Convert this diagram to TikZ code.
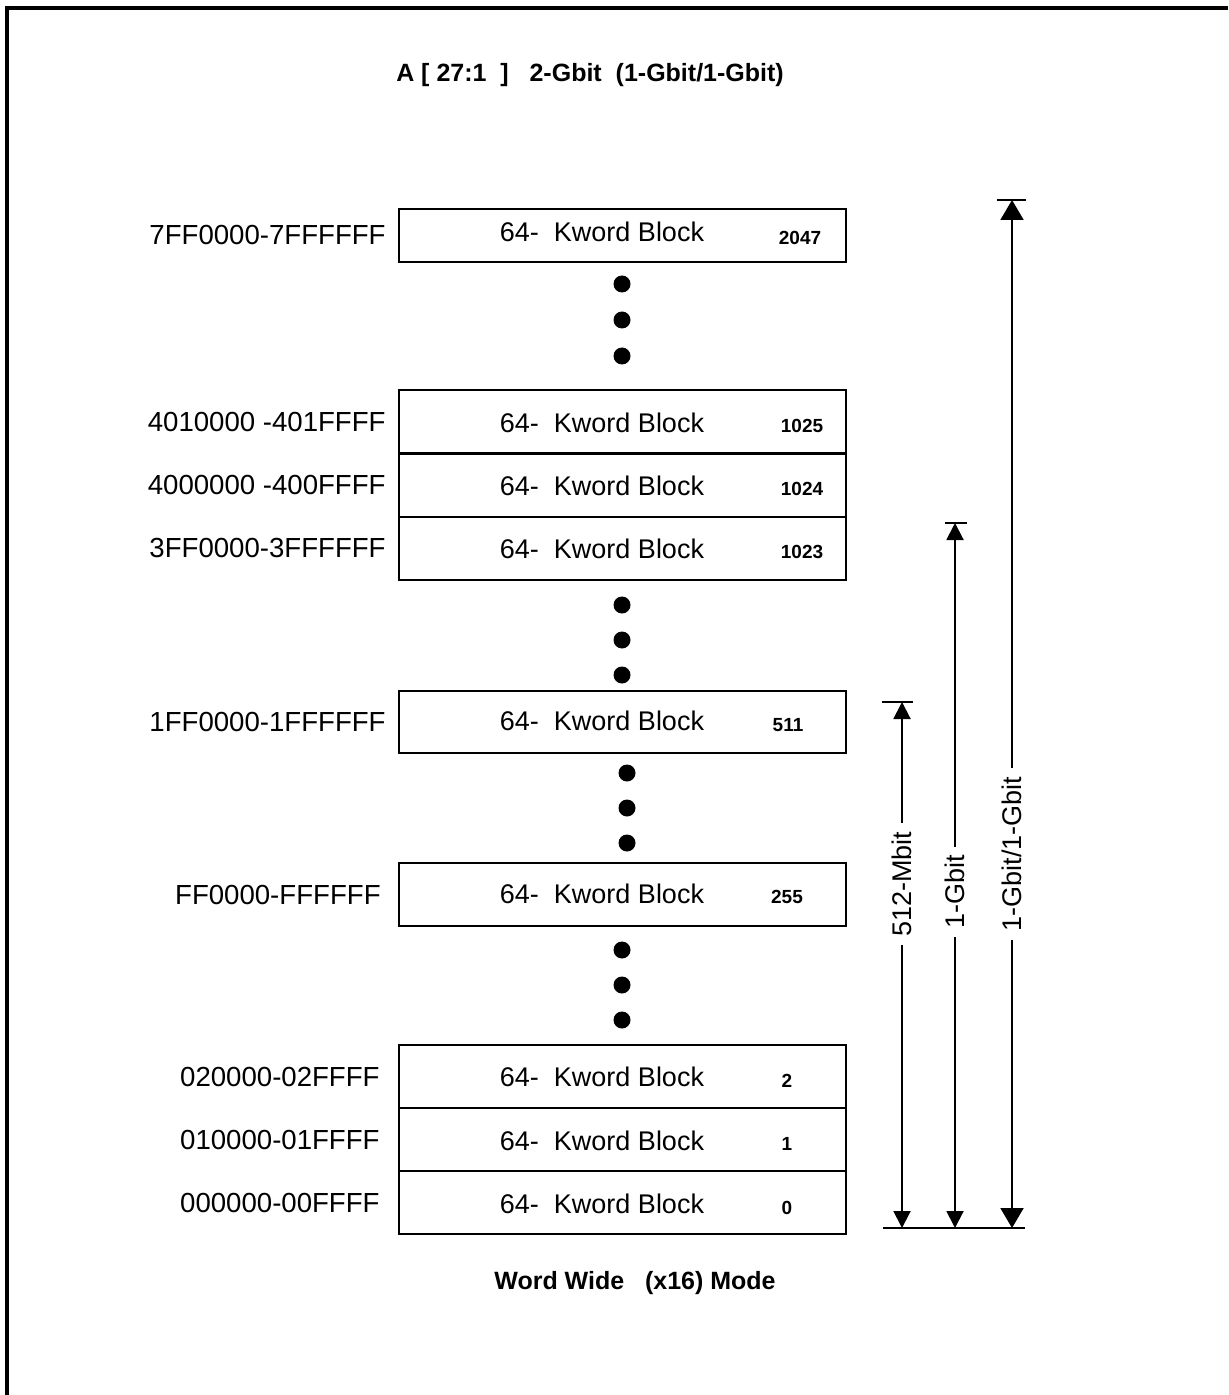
\documentclass[tikz,border=0pt]{standalone}
\usepackage{fontspec}
\setmainfont{Liberation Sans}
\usetikzlibrary{positioning,arrows.meta}

\begin{document}
\begin{tikzpicture}[
  x=0.5pt,y=-0.5pt,
  blk/.style={draw,line width=1pt,minimum width=223.5pt,minimum height=31.5pt,inner sep=0pt},
  kw/.style={font=\fontsize{13.5}{16}\selectfont,inner sep=0pt},
  addr/.style={font=\fontsize{13.8}{16}\selectfont,inner sep=0pt},
  num/.style={font=\bfseries\fontsize{9.5}{11}\selectfont,inner sep=0pt},
  ttl/.style={font=\bfseries\fontsize{12.5}{15}\selectfont,inner sep=0pt},
  dot/.style={circle,fill,inner sep=0pt,minimum size=8.5pt},
  size/.style={font=\fontsize{13.5}{16}\selectfont,rotate=90,inner sep=4pt},
  dim/.style={line width=1pt,-{Triangle[width=8.5pt,length=8.5pt]}},
  bigdim/.style={line width=1pt,-{Triangle[width=11.5pt,length=10pt]}},
  bar/.style={line width=1pt},
  node distance=6pt
]
  \useasboundingbox (0,0) rectangle (1228,1395);
  \draw[line width=2pt] (7,1395) -- (7,8) -- (1228,8);

  \node[ttl] (title) at (590,75) {A [ 27:1\ \ ]\ \ \ 2-Gbit\ \ (1-Gbit/1-Gbit)};

  \node[blk,minimum height=26.5pt] (b2047) at (622.5,235.5) {};
  \node[kw] (k2047) at (602,232) {64-\ \ Kword Block};
  \node[num] (n2047) at (800,238) {2047};
  \node[addr,left=of b2047] (a2047) {7FF0000-7FFFFFF};

  \node[dot] (d1a) at (622,284) {};
  \node[dot] (d1b) at (622,320) {};
  \node[dot] (d1c) at (622,356) {};

  \node[blk] (b1025) at (622.5,421.5) {};
  \node[kw] (k1025) at (602,422.5) {64-\ \ Kword Block};
  \node[num] (n1025) at (802,425.5) {1025};
  \node[addr,left=of b1025] (a1025) {4010000 -401FFFF};

  \node[blk] (b1024) at (622.5,485) {};
  \node[kw] (k1024) at (602,486) {64-\ \ Kword Block};
  \node[num] (n1024) at (802,489) {1024};
  \node[addr,left=of b1024] (a1024) {4000000 -400FFFF};

  \node[blk] (b1023) at (622.5,548) {};
  \node[kw] (k1023) at (602,549) {64-\ \ Kword Block};
  \node[num] (n1023) at (802,552) {1023};
  \node[addr,left=of b1023] (a1023) {3FF0000-3FFFFFF};

  \node[dot] (d2a) at (622,605) {};
  \node[dot] (d2b) at (622,640) {};
  \node[dot] (d2c) at (622,675) {};

  \node[blk,minimum height=31pt] (b511) at (622.5,722) {};
  \node[kw] (k511) at (602,721) {64-\ \ Kword Block};
  \node[num] (n511) at (788,725) {511};
  \node[addr,left=of b511] (a511) {1FF0000-1FFFFFF};

  \node[dot] (d3a) at (627,773) {};
  \node[dot] (d3b) at (627,808) {};
  \node[dot] (d3c) at (627,843) {};

  \node[blk] (b255) at (622.5,894.5) {};
  \node[kw] (k255) at (602,894) {64-\ \ Kword Block};
  \node[num] (n255) at (787,897) {255};
  \node[addr,left=8.5pt of b255] (a255) {FF0000-FFFFFF};

  \node[dot] (d4a) at (622,950) {};
  \node[dot] (d4b) at (622,985) {};
  \node[dot] (d4c) at (622,1020) {};

  \node[blk] (b2) at (622.5,1076.5) {};
  \node[kw] (k2) at (602,1077) {64-\ \ Kword Block};
  \node[num] (n2) at (787,1081) {2};
  \node[addr,left=9pt of b2] (a2) {020000-02FFFF};

  \node[blk] (b1) at (622.5,1139.5) {};
  \node[kw] (k1) at (602,1141) {64-\ \ Kword Block};
  \node[num] (n1) at (787,1144) {1};
  \node[addr,left=9pt of b1] (a1) {010000-01FFFF};

  \node[blk] (b0) at (622.5,1202.5) {};
  \node[kw] (k0) at (602,1204) {64-\ \ Kword Block};
  \node[num] (n0) at (787,1208) {0};
  \node[addr,left=9pt of b0] (a0) {000000-00FFFF};

  \coordinate (bl) at (883,1228);
  \coordinate (br) at (1025,1228);
  \draw[bar] (bl) -- (br);

  \node[size] (s512) at (902,884) {512-Mbit};
  \coordinate (s512t) at (902,702);
  \coordinate (s512b) at (902,1228);
  \draw[bar] ([xshift=-10pt]s512t) -- ([xshift=5.5pt]s512t);
  \draw[dim] (s512.east) -- (s512t);
  \draw[dim] (s512.west) -- (s512b);

  \node[size] (s1g) at (955,892) {1-Gbit};
  \coordinate (s1gt) at (955,523);
  \coordinate (s1gb) at (955,1228);
  \draw[bar] ([xshift=-5pt]s1gt) -- ([xshift=6pt]s1gt);
  \draw[dim] (s1g.east) -- (s1gt);
  \draw[dim] (s1g.west) -- (s1gb);

  \node[size] (s2g) at (1012,854) {1-Gbit/1-Gbit};
  \coordinate (s2gt) at (1012,200);
  \coordinate (s2gb) at (1012,1228);
  \draw[bar] ([xshift=-7.5pt]s2gt) -- ([xshift=7pt]s2gt);
  \draw[bigdim] (s2g.east) -- (s2gt);
  \draw[bigdim] (s2g.west) -- (s2gb);

  \node[ttl] (mode) at (635,1283) {Word Wide\ \ \ (x16)\ Mode};
\end{tikzpicture}
\end{document}
